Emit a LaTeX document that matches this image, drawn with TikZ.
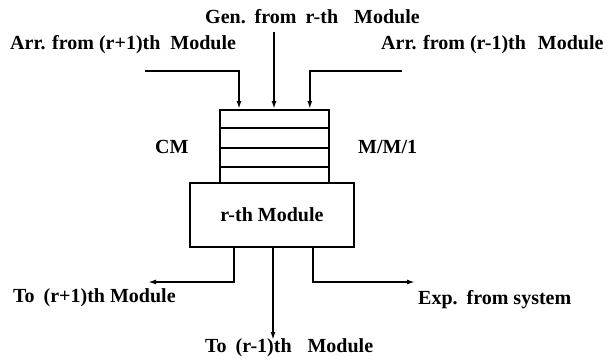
\documentclass[tikz,border=0pt]{standalone}
\usepackage{fontspec}
\setmainfont{Liberation Serif}
\usetikzlibrary{arrows.meta,calc}
\begin{document}
\begin{tikzpicture}[x=1pt,y=-1pt,
  lbl/.style={font=\fontsize{20}{23}\selectfont\bfseries, inner sep=0pt, anchor=west},
  box/.style={draw, line width=1.8pt, inner sep=0pt},
  wire/.style={line width=1.8pt},
  arr/.style={wire,-{Latex[length=8pt,width=5pt]}}]
\useasboundingbox (0,0) rectangle (607,362);
% boxes
\node[box, minimum width=109pt, minimum height=73pt, anchor=north west] (q) at (219,109) {};
\node[box, minimum width=164pt, minimum height=64pt, anchor=north west,
      font=\fontsize{20}{23}\selectfont\bfseries] (m) at (189,182) {r-th Module};
\foreach \d in {19,39,58}
  \draw[wire] ($(q.north west)+(0,\d)$) -- ($(q.north east)+(0,\d)$);
% labels
\node[lbl] (gen) at (205,17) {Gen.\hspace{.45em}from\hspace{.45em}r-th\hspace{.8em}Module};
\node[lbl] (arrl) at (10,45) {Arr. from (r+1)th\hspace{.5em}Module};
\node[lbl] (arrr) at (381,45) {Arr. from (r-1)th\hspace{.6em}Module};
\node[lbl] (cm) at (155,147) {CM};
\node[lbl] (mm1) at (358,147) {M/M/1};
\node[lbl] (tol) at (13,298) {To\hspace{.45em}(r+1)th Module};
\node[lbl] (exp) at (418,300) {Exp.\hspace{.45em}from system};
\node[lbl] (tor) at (205,348) {To\hspace{.45em}(r-1)th\hspace{.8em}Module};
% inputs
\coordinate (inL) at (145,71);
\coordinate (inC) at (274,32);
\coordinate (inR) at (402,71);
\draw[arr] (inL) -| ($(q.north west)+(20,0)$);
\draw[arr] (inC) -- (inC |- q.north);
\draw[arr] (inR) -| ($(q.north east)+(-20,0)$);
% outputs
\coordinate (outL) at (148,282);
\coordinate (outC) at (273,340);
\coordinate (outR) at (415,282);
\draw[arr] ($(m.south west)+(45,0)$) |- (outL);
\draw[arr] (outC |- m.south) -- (outC);
\draw[arr] ($(m.south west)+(124,0)$) |- (outR);
\end{tikzpicture}
\end{document}
